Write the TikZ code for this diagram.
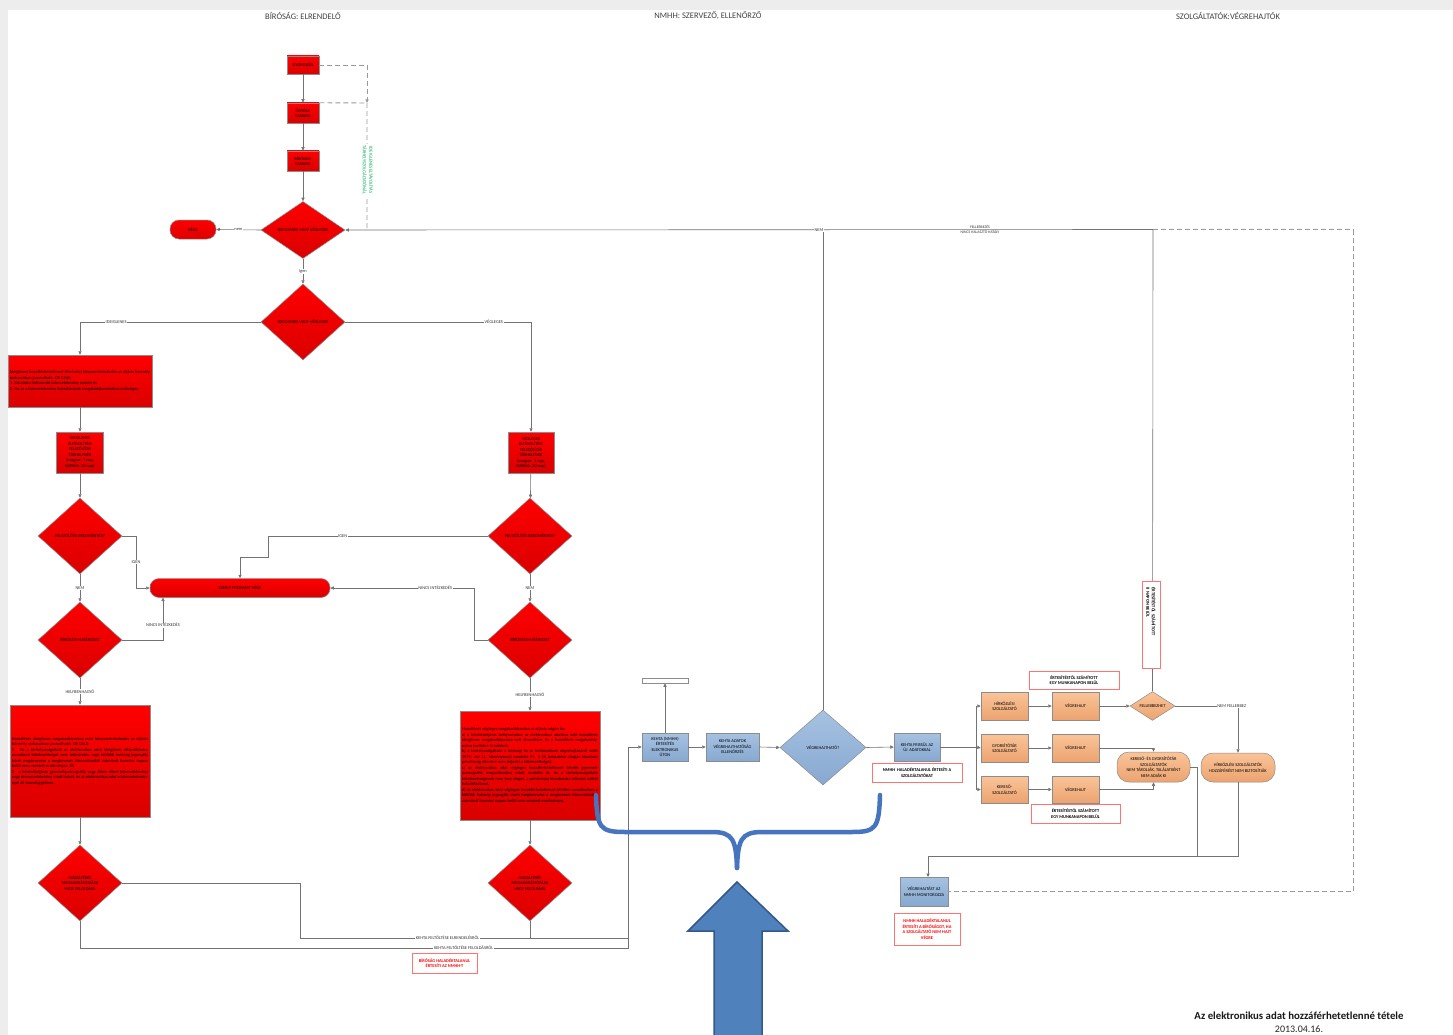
\documentclass[tikz,border=0pt]{standalone}
\usepackage{fontspec}
\setmainfont{Carlito}
\usetikzlibrary{shapes.geometric,arrows.meta}
\definecolor{rtop}{RGB}{255,0,0}
\definecolor{rbot}{RGB}{218,0,0}
\definecolor{btop}{RGB}{166,194,226}
\definecolor{bbot}{RGB}{135,168,208}
\definecolor{otop}{RGB}{250,196,152}
\definecolor{obot}{RGB}{236,163,112}
\definecolor{bluebr}{RGB}{70,116,190}
\definecolor{blueA}{RGB}{79,129,189}
\definecolor{blueB}{RGB}{52,88,136}
\definecolor{gtext}{RGB}{0,170,80}
\newcommand{\bx}{\fontsize{4.4}{5.5}\selectfont}
\newcommand{\hdr}{\fontsize{8.5}{10}\selectfont}
\tikzset{
  box/.style={draw=black!45, line width=0.5pt, align=center, inner sep=1pt, font=\bx},
  redbox/.style={box, top color=rtop, bottom color=rbot},
  reddia/.style={redbox, diamond, inner sep=0pt},
  redterm/.style={redbox, rounded corners=9pt},
  bluebox/.style={box, top color=btop, bottom color=bbot},
  bluedia/.style={bluebox, diamond, inner sep=0pt},
  orbox/.style={box, top color=otop, bottom color=obot},
  ordia/.style={orbox, diamond, inner sep=0pt},
  orterm/.style={orbox, rounded corners=12pt},
  lbl/.style={font=\bx, fill=white, inner sep=0.6pt, text=black!80},
  note/.style={draw=red!55, line width=0.6pt, fill=white, align=center, font=\bx\bfseries, inner sep=1pt},
  rednote/.style={note, text=red},
  conn/.style={draw=black!55, line width=0.6pt},
  arr/.style={conn, -{Triangle[length=3.5pt,width=3.2pt]}},
  dsh/.style={draw=black!40, line width=0.9pt, dash pattern=on 5pt off 3pt},
  longtxt/.style={redbox, align=justify, inner sep=2pt},
}
\begin{document}
\begin{tikzpicture}[x=1pt,y=-1pt]
\useasboundingbox (0,0) rectangle (1453,1035);
\fill[black!7] (0,0) rectangle (1453,1035);
\fill[white] (8,10) rectangle (1453,1035);

% headers
\node[font=\hdr, text=black!75] (h1) at (303,16) {BÍRÓSÁG: ELRENDELŐ};
\node[font=\hdr, text=black!75] (h2) at (708,16) {NMHH: SZERVEZŐ, ELLENŐRZŐ};
\node[font=\hdr, text=black!75] (h3) at (1228,16) {SZOLGÁLTATÓK:VÉGREHAJTÓK};

% top column
\node[redbox, minimum width=32, minimum height=18] (nyom) at (303,65) {NYOMOZÁS};
\node[redbox, minimum width=32, minimum height=20] (ugy) at (303,113) {ÜGYÉSZI\\SZAKASZ};
\node[redbox, minimum width=32, minimum height=20] (bir) at (303,161) {BÍRÓSÁGI\\SZAKASZ};
\node[reddia, minimum width=84, minimum height=57] (d1) at (303,230) {IDEIGLENES VAGY VÉGLEGES};
\node[redterm, minimum width=46, minimum height=19] (vege) at (193,229.5) {VÉGE};
\node[reddia, minimum width=84, minimum height=76] (d2) at (303,322) {IDEIGLENES VAGY VÉGLEGES};

\draw[arr] (nyom) -- (ugy);
\draw[arr] (ugy) -- (bir);
\draw[arr] (bir) -- (d1);
\draw[arr] (d1.west) -- node[lbl]{nem} (vege.east);
\draw[arr] (d1.south) -- node[lbl]{igen} (d2.north);

% dashed feedback
\coordinate (dA) at (367,65);
\coordinate (dJ) at (367,103);
\coordinate (dB) at (367,229.5);
\draw[dsh, -{Triangle[length=3.5pt,width=3.2pt]}] (nyom.east) -- (dA) -- (dJ);
\draw[dsh] (ugy.north east) -- (dJ) -- (dB);
\node[rotate=-90, fill=white, inner sep=1pt, align=center, font=\fontsize{4.6}{6.5}\selectfont, text=gtext] (glbl) at (368,170) {IDEIGLENES ELTÁVOLÍTÁS\\TÁRHELYSZOLGÁLTATÓNÁL};

% left branch
\node[longtxt, text width=140, minimum height=52] (tL) at (80,381) {Ideiglenes hozzáférhetetlenné tétel mint kényszerintézkedés az eljárás bármely szakaszában javasolható. DE CSAK:\\
1. Közvádra üldözendő bűncselekmény esetén és\\
2. Ha az a bűncselekmény folytatásának megakadályozásához szükséges};
\node[redbox, minimum width=47, minimum height=41] (fL) at (80,452.5) {IDEIGLENES\\ELTÁVOLÍTÁSI\\FELSZÓLÍTÁS\\TÁRHELYNEK\\(magyar: 1 nap,\\külföldi: 30 nap)};
\node[reddia, minimum width=84, minimum height=76] (dFL) at (80,536) {FELSZÓLÍTÁS EREDMÉNYES?};
\node[reddia, minimum width=84, minimum height=76] (dBL) at (80,640) {BÍRÓSÁGI HATÁROZAT};
\node[longtxt, text width=136, minimum height=112] (bL) at (80,761) {Hozzáférés ideiglenes megakadályozása mint kényszerintézkedés az eljárás bármely szakaszában javasolható. DE CSAK:\\
1. Ha a tárhelyszolgáltató az elektronikus adat ideiglenes eltávolítására vonatkozó kötelezettségét nem teljesítette, vagy külföldi hatóság jogsegély iránti megkeresése a megkeresés kibocsátásától számított harminc napon belül nem vezetett eredményre, ÉS\\
2. a büntetőeljárás gyermekpornográfia vagy állam elleni bűncselekmény vagy terrorcselekmény miatt indult, és az elektronikus adat e bűncselekménnyel áll összefüggésben.};
\node[reddia, minimum width=84, minimum height=76] (dHL) at (80,883) {HOZZÁFÉRÉS\\MEGAKADÁLYOZÁSA\\VAGY FELOLDÁSA};

% right branch
\node[redbox, minimum width=46, minimum height=41] (fR) at (531,452.5) {VÉGLEGES\\ELTÁVOLÍTÁSI\\FELSZÓLÍTÁS\\TÁRHELYNEK\\(magyar: 1 nap,\\külföldi: 30 nap)};
\node[reddia, minimum width=84, minimum height=76] (dFR) at (530,536) {FELSZÓLÍTÁS EREDMÉNYES?};
\node[reddia, minimum width=84, minimum height=76] (dBR) at (530,640) {BÍRÓSÁGI HATÁROZAT};
\node[longtxt, text width=136, minimum height=109] (bR) at (530,765.5) {Hozzáférés végleges megakadályozása az eljárás végén ha:\\
a) a büntetőeljárás befejezésekor az elektronikus adathoz való hozzáférés ideiglenes megakadályozása volt elrendelve, és a hozzáférés megakadályozása továbbra is indokolt;\\
b) a tárhelyszolgáltató a bírósági és az intézkedések végrehajtásáról szóló 1979. évi 11. törvényerejű rendelet 91. § (3) bekezdése alapján kiszabott pénzbírság ellenére nem teljesíti a kötelezettségét,\\
c) az elektronikus adat végleges hozzáférhetetlenné tételét gyermekpornográfia megvalósulása miatt rendelte el, és a tárhelyszolgáltató kötelezettségének nem tesz eleget, a pénzbírság kiszabására tekintet nélkül haladéktalanul,\\
d) az elektronikus adat végleges hozzáférhetetlenné tételére vonatkozóan a külföldi hatóság jogsegély iránti megkeresése a megkeresés kibocsátásától számított harminc napon belül nem vezetett eredményre.};
\node[reddia, minimum width=84, minimum height=76] (dHR) at (530,883) {HOZZÁFÉRÉS\\MEGAKADÁLYOZÁSA\\VAGY FELOLDÁSA};

\node[redterm, minimum width=180, minimum height=19] (szerv) at (240,588) {SZERVI FOLYAMAT VÉGE};

% connections left/right
\draw[arr] (d2.west) -| node[lbl, pos=0.4]{IDEIGLENES} (tL.north);
\draw[arr] (d2.east) -| node[lbl, pos=0.4]{VÉGLEGES} (fR.north);
\draw[arr] (tL) -- (fL);
\draw[arr] (fL) -- (dFL);
\draw[arr] (dFL) -- node[lbl]{NEM} (dBL);
\draw[arr] (fR) -- (dFR);
\draw[arr] (dFR) -- node[lbl]{NEM} (dBR);
\coordinate (igL1) at (136,536);
\coordinate (igL2) at (136,588);
\draw[arr] (dFL.east) -- (igL1) -- node[lbl]{IGEN} (igL2) -- (szerv.west);
\coordinate (igR1) at (268,536);
\coordinate (igR2) at (268,557);
\coordinate (igR3) at (240,557);
\draw[arr] (dFR.west) -- node[lbl, pos=0.66]{IGEN} (igR1) -- (igR2) -- (igR3) -- (szerv.north);
\coordinate (niL1) at (163,640);
\coordinate (niL2) at (163,597.5);
\draw[arr] (dBL.east) -- (niL1) -- node[lbl, pos=0.35]{NINCS INTÉZKEDÉS} (niL2);
\coordinate (niR1) at (474,640);
\coordinate (niR2) at (474,588);
\draw[arr] (dBR.west) -- (niR1) -- (niR2) -- node[lbl, pos=0.27]{NINCS INTÉZKEDÉS} (szerv.east);
\draw[arr] (dBL.south) -- node[lbl, pos=0.5]{HELYBENHAGYÓ} (bL.north);
\draw[arr] (dBR.south) -- node[lbl, pos=0.5]{HELYBENHAGYÓ} (bR.north);
\draw[arr] (bL) -- (dHL);
\draw[arr] (bR) -- (dHR);

% blue NMHH part
\node[bluebox, minimum width=46, minimum height=28] (k1) at (665,747) {KEHTA (NMHH)\\ÉRTESÍTÉS\\ELEKTRONIKUS\\ÚTON};
\node[draw=black!45, line width=0.5pt, fill=white, minimum width=46, minimum height=5, inner sep=0] (e1) at (665,680.5) {};
\node[bluebox, minimum width=53, minimum height=28] (k2) at (732.5,747) {KEHTA ADATOK\\VÉGREHAJTHATÓSÁG\\ELLENŐRZÉS};
\node[bluedia, minimum width=86, minimum height=75] (vh) at (823,747.5) {VÉGREHAJTHATÓ?};
\node[bluebox, minimum width=46, minimum height=28] (k3) at (917,747) {KEHTA FRISSÜL AZ\\ÚJ \ ADATOKKAL};
\node[note, minimum width=90, minimum height=19] (n1) at (917,772.5) {NMHH \ HALADÉKTALANUL ÉRTESÍTI A\\SZOLGÁLTATÓKAT};

\coordinate (u1) at (300,883);
\coordinate (u2) at (300,938);
\coordinate (u3) at (628,938);
\coordinate (u4) at (530,938);
\coordinate (w1) at (80,948);
\coordinate (w2) at (628,948);
\coordinate (w3) at (628,747);
\draw[conn] (dHL.east) -- (u1) -- (u2) -- node[lbl, pos=0.45]{KEHTA FELTÖLTÉSE ELRENDELÉSRŐL} (u3);
\draw[conn] (dHR.south) -- (u4);
\draw[arr] (dHL.south) -- (w1) -- node[lbl, pos=0.7]{KEHTA FELTÖLTÉSE FELOLDÁSRÓL} (w2) -- (w3) -- (k1.west);
\node[rednote, minimum width=65, minimum height=20] (nb) at (444.5,963) {BÍRÓSÁG HALADÉKTALANUL\\ÉRTESÍTI AZ NMHH-T};

\draw[arr] (k1.north) -- (e1.south);
\draw[arr] (k1) -- (k2);
\draw[arr] (k2.east) -- (vh.west);
\draw[arr] (vh.east) -- (k3.west);

% orange service providers
\node[orbox, minimum width=47, minimum height=28] (hir) at (1004.5,706) {HÍRKÖZLÉSI\\SZOLGÁLTATÓ};
\node[orbox, minimum width=47, minimum height=28] (gy) at (1004.5,748) {GYORSÍTÓTÁR\\SZOLGÁLTATÓ};
\node[orbox, minimum width=47, minimum height=27] (ker) at (1004.5,789.5) {KERESŐ-\\SZOLGÁLTATÓ};
\node[orbox, minimum width=47, minimum height=28] (v1) at (1075.5,706) {VÉGREHAJT};
\node[orbox, minimum width=47, minimum height=28] (v2) at (1075.5,748) {VÉGREHAJT};
\node[orbox, minimum width=47, minimum height=27] (v3) at (1075.5,789.5) {VÉGREHAJT};
\node[ordia, minimum width=45, minimum height=26] (fel) at (1152.5,706) {FELLEBBEZHET};
\node[note, minimum width=90, minimum height=18] (n2) at (1074,680) {ÉRTESÍTÉSTŐL SZÁMÍTOTT\\EGY MUNKANAPON BELÜL};
\node[note, minimum width=89, minimum height=19] (n3) at (1075.5,813.5) {ÉRTESÍTÉSTŐL SZÁMÍTOTT\\EGY MUNKANAPON BELÜL};
\node[orterm, minimum width=73, minimum height=30] (t1) at (1153.5,767) {KERESŐ- ÉS GYORSÍTÓTÁR\\SZOLGÁLTATÓK\\NEM TÁROLJÁK, TALÁLATKÉNT\\NEM ADJÁK KI};
\node[orterm, minimum width=74, minimum height=29] (t2) at (1238,767.5) {HÍRKÖZLÉSI SZOLGÁLTATÓK\\HOZZÁFÉRÉST NEM BIZTOSÍTJÁK};

\coordinate (br) at (976,747);
\draw[conn] (k3.east) -- (br);
\draw[arr] (br) |- (hir.west);
\draw[arr] (br) -- (gy.west);
\draw[arr] (br) |- (ker.west);
\draw[arr] (hir) -- (v1);
\draw[arr] (gy) -- (v2);
\draw[arr] (ker) -- (v3);
\draw[arr] (v1.east) -- (fel.west);
\draw[arr] (fel.east) -| node[lbl, pos=0.45]{NEM FELLEBBEZ} (t2.north);
\draw[arr] (v2.east) -| (t1.north);
\draw[arr] (v3.east) -| (t1.south);

% monitoring
\node[bluebox, minimum width=48, minimum height=29] (mon) at (924,891.5) {VÉGREHAJTÁST AZ\\NMHH MONITOROZZA};
\node[rednote, minimum width=66, minimum height=32] (n4) at (927,929) {NMHH HALADÉKTALANUL\\ÉRTESÍTI A BÍRÓSÁGOT, HA\\A SZOLGÁLTATÓ NEM HAJT\\VÉGRE};
\coordinate (m1) at (1197,767);
\coordinate (m2) at (1197,856);
\coordinate (m3) at (1238,856);
\coordinate (m4) at (928,856);
\coordinate (m5) at (928,877);
\draw[conn] (t1.east) -- (m1) -- (m2);
\draw[conn] (t2.south) -- (m3) -- (m2);
\draw[arr] (m2) -- (m4) -- (m5);

% long top connectors
\coordinate (top1) at (1153,229.5);
\coordinate (top2) at (823,229.5);
\coordinate (ds1) at (1353,229.5);
\coordinate (ds2) at (1353,891.5);
\draw[conn] (vh.north) -- (top2);
\draw[arr] (fel.north) -- (top1) -- (d1.east);
\node[lbl] (lnem) at (819,230) {NEM};
\node[font=\fontsize{3.8}{4.4}\selectfont, align=center, text=black!80, inner sep=0pt] (lfel) at (980,229.5) {FELLEBBEZÉS\\NINCS HALASZTÓ HATÁLY};
\draw[dsh] (top1) -- (ds1) -- (ds2) -- (mon.east);
\node[rotate=-90, draw=red!55, line width=0.6pt, fill=white, align=left, font=\bx\bfseries, minimum width=87, minimum height=18, inner sep=1pt, text width=82] (n5) at (1151,624.5) {\hspace*{4pt}ÉRTESÍTÉSTŐL SZÁMÍTOTT\\\hspace*{4pt}8 NAPON BELÜL};

% blue brace and block arrow
\draw[bluebr, line width=4.5pt, line cap=round] (596,795) .. controls (597,828) and (600,832) .. (625,832) -- (712,832) .. controls (733,832) and (736,840) .. (737,868);
\draw[bluebr, line width=4.5pt, line cap=round] (880,795) .. controls (879,828) and (876,832) .. (852,832) -- (762,832) .. controls (741,832) and (738,840) .. (737,868);
\fill[blueA] (737,882) -- (788,931) -- (762,931) -- (762,1036) -- (714,1036) -- (714,931) -- (688,931) -- cycle;
\draw[blueB, line width=1.5pt, line join=miter] (714,1036) -- (714,931) -- (688,931) -- (737,882) -- (788,931) -- (762,931) -- (762,1036);

% title
\node[font=\fontsize{10.8}{12}\selectfont\bfseries, text=black!90] (title) at (1299,1016) {Az elektronikus adat hozzáférhetetlenné tétele};
\node[font=\fontsize{10}{11}\selectfont, text=black!85] (date) at (1299,1029) {2013.04.16.};
\end{tikzpicture}
\end{document}
